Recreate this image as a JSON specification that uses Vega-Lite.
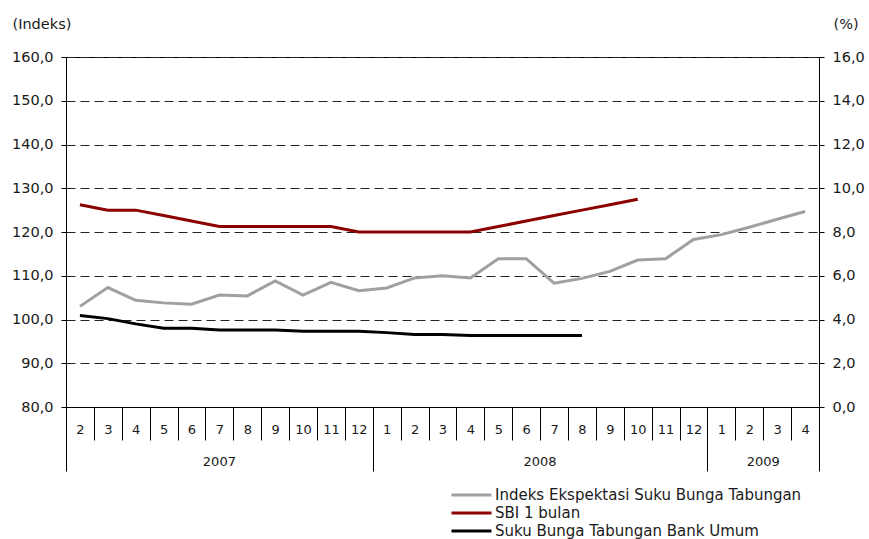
{
  "$schema": "https://vega.github.io/schema/vega-lite/v6.json",
  "width": 753,
  "height": 350,
  "autosize": {"type": "none"},
  "padding": {"left": 66, "top": 57, "right": 50, "bottom": 132},
  "background": "white",
  "config": {
    "view": {"stroke": "#000", "strokeWidth": 1},
    "font": "DejaVu Sans",
    "axis": {"labelFont": "DejaVu Sans", "titleFont": "DejaVu Sans", "labelColor": "#1a1a1a", "titleColor": "#1a1a1a", "domainColor": "#000", "tickColor": "#000", "titleFontWeight": "normal"},
    "legend": {"labelFont": "DejaVu Sans"}
  },
  "datasets": {
    "rows": [
      {"t": "2007-02", "s": "Indeks Ekspektasi Suku Bunga Tabungan", "v": 103.0},
      {"t": "2007-03", "s": "Indeks Ekspektasi Suku Bunga Tabungan", "v": 107.3},
      {"t": "2007-04", "s": "Indeks Ekspektasi Suku Bunga Tabungan", "v": 104.4},
      {"t": "2007-05", "s": "Indeks Ekspektasi Suku Bunga Tabungan", "v": 103.8},
      {"t": "2007-06", "s": "Indeks Ekspektasi Suku Bunga Tabungan", "v": 103.5},
      {"t": "2007-07", "s": "Indeks Ekspektasi Suku Bunga Tabungan", "v": 105.6},
      {"t": "2007-08", "s": "Indeks Ekspektasi Suku Bunga Tabungan", "v": 105.4},
      {"t": "2007-09", "s": "Indeks Ekspektasi Suku Bunga Tabungan", "v": 108.8},
      {"t": "2007-10", "s": "Indeks Ekspektasi Suku Bunga Tabungan", "v": 105.6},
      {"t": "2007-11", "s": "Indeks Ekspektasi Suku Bunga Tabungan", "v": 108.5},
      {"t": "2007-12", "s": "Indeks Ekspektasi Suku Bunga Tabungan", "v": 106.6},
      {"t": "2008-01", "s": "Indeks Ekspektasi Suku Bunga Tabungan", "v": 107.2},
      {"t": "2008-02", "s": "Indeks Ekspektasi Suku Bunga Tabungan", "v": 109.5},
      {"t": "2008-03", "s": "Indeks Ekspektasi Suku Bunga Tabungan", "v": 110.0},
      {"t": "2008-04", "s": "Indeks Ekspektasi Suku Bunga Tabungan", "v": 109.5},
      {"t": "2008-05", "s": "Indeks Ekspektasi Suku Bunga Tabungan", "v": 113.9},
      {"t": "2008-06", "s": "Indeks Ekspektasi Suku Bunga Tabungan", "v": 113.9},
      {"t": "2008-07", "s": "Indeks Ekspektasi Suku Bunga Tabungan", "v": 108.3},
      {"t": "2008-08", "s": "Indeks Ekspektasi Suku Bunga Tabungan", "v": 109.4},
      {"t": "2008-09", "s": "Indeks Ekspektasi Suku Bunga Tabungan", "v": 111.0},
      {"t": "2008-10", "s": "Indeks Ekspektasi Suku Bunga Tabungan", "v": 113.6},
      {"t": "2008-11", "s": "Indeks Ekspektasi Suku Bunga Tabungan", "v": 113.9},
      {"t": "2008-12", "s": "Indeks Ekspektasi Suku Bunga Tabungan", "v": 118.3},
      {"t": "2009-01", "s": "Indeks Ekspektasi Suku Bunga Tabungan", "v": 119.4},
      {"t": "2009-02", "s": "Indeks Ekspektasi Suku Bunga Tabungan", "v": 121.1},
      {"t": "2009-03", "s": "Indeks Ekspektasi Suku Bunga Tabungan", "v": 122.9},
      {"t": "2009-04", "s": "Indeks Ekspektasi Suku Bunga Tabungan", "v": 124.7},
      {"t": "2007-02", "s": "SBI 1 bulan", "v": 9.25},
      {"t": "2007-03", "s": "SBI 1 bulan", "v": 9.0},
      {"t": "2007-04", "s": "SBI 1 bulan", "v": 9.0},
      {"t": "2007-05", "s": "SBI 1 bulan", "v": 8.75},
      {"t": "2007-06", "s": "SBI 1 bulan", "v": 8.5},
      {"t": "2007-07", "s": "SBI 1 bulan", "v": 8.25},
      {"t": "2007-08", "s": "SBI 1 bulan", "v": 8.25},
      {"t": "2007-09", "s": "SBI 1 bulan", "v": 8.25},
      {"t": "2007-10", "s": "SBI 1 bulan", "v": 8.25},
      {"t": "2007-11", "s": "SBI 1 bulan", "v": 8.25},
      {"t": "2007-12", "s": "SBI 1 bulan", "v": 8.0},
      {"t": "2008-01", "s": "SBI 1 bulan", "v": 8.0},
      {"t": "2008-02", "s": "SBI 1 bulan", "v": 8.0},
      {"t": "2008-03", "s": "SBI 1 bulan", "v": 8.0},
      {"t": "2008-04", "s": "SBI 1 bulan", "v": 8.0},
      {"t": "2008-05", "s": "SBI 1 bulan", "v": 8.25},
      {"t": "2008-06", "s": "SBI 1 bulan", "v": 8.5},
      {"t": "2008-07", "s": "SBI 1 bulan", "v": 8.75},
      {"t": "2008-08", "s": "SBI 1 bulan", "v": 9.0},
      {"t": "2008-09", "s": "SBI 1 bulan", "v": 9.25},
      {"t": "2008-10", "s": "SBI 1 bulan", "v": 9.5},
      {"t": "2007-02", "s": "Suku Bunga Tabungan Bank Umum", "v": 4.18},
      {"t": "2007-03", "s": "Suku Bunga Tabungan Bank Umum", "v": 4.04},
      {"t": "2007-04", "s": "Suku Bunga Tabungan Bank Umum", "v": 3.8},
      {"t": "2007-05", "s": "Suku Bunga Tabungan Bank Umum", "v": 3.6},
      {"t": "2007-06", "s": "Suku Bunga Tabungan Bank Umum", "v": 3.6},
      {"t": "2007-07", "s": "Suku Bunga Tabungan Bank Umum", "v": 3.52},
      {"t": "2007-08", "s": "Suku Bunga Tabungan Bank Umum", "v": 3.52},
      {"t": "2007-09", "s": "Suku Bunga Tabungan Bank Umum", "v": 3.52},
      {"t": "2007-10", "s": "Suku Bunga Tabungan Bank Umum", "v": 3.46},
      {"t": "2007-11", "s": "Suku Bunga Tabungan Bank Umum", "v": 3.46},
      {"t": "2007-12", "s": "Suku Bunga Tabungan Bank Umum", "v": 3.46},
      {"t": "2008-01", "s": "Suku Bunga Tabungan Bank Umum", "v": 3.4},
      {"t": "2008-02", "s": "Suku Bunga Tabungan Bank Umum", "v": 3.31},
      {"t": "2008-03", "s": "Suku Bunga Tabungan Bank Umum", "v": 3.31},
      {"t": "2008-04", "s": "Suku Bunga Tabungan Bank Umum", "v": 3.27},
      {"t": "2008-05", "s": "Suku Bunga Tabungan Bank Umum", "v": 3.27},
      {"t": "2008-06", "s": "Suku Bunga Tabungan Bank Umum", "v": 3.27},
      {"t": "2008-07", "s": "Suku Bunga Tabungan Bank Umum", "v": 3.27},
      {"t": "2008-08", "s": "Suku Bunga Tabungan Bank Umum", "v": 3.27}
    ]
  },
  "data": {"name": "rows"},
  "layer": [
    {
      "transform": [{"filter": "datum.s == 'Indeks Ekspektasi Suku Bunga Tabungan'"}],
      "mark": {"type": "line", "strokeWidth": 3},
      "encoding": {
        "x": {
          "field": "t", "type": "ordinal",
          "scale": {"type": "band", "paddingInner": 0, "paddingOuter": 0},
          "axis": {
            "orient": "bottom", "title": null, "grid": false,
            "tickBand": "extent",
            "tickSize": {"condition": {"test": "datum.extra || datum.value == '2007-12' || datum.value == '2008-12' || datum.value == '2009-04'", "value": 64}, "value": 33},
            "labelPadding": {"condition": {"test": "datum.extra || datum.value == '2007-12' || datum.value == '2008-12' || datum.value == '2009-04'", "value": -42}, "value": -11},
            "labelExpr": "datum.extra || !datum.value ? '' : '' + toNumber(substring(datum.value, 5, 7))",
            "labelAngle": 0, "labelBaseline": "middle", "labelFontSize": 13,
            "labelOverlap": false, "labelBound": false, "labelFlush": false
          }
        },
        "y": {
          "field": "v", "type": "quantitative",
          "scale": {"domain": [80, 160], "nice": false, "zero": false},
          "axis": {
            "orient": "left", "values": [80, 90, 100, 110, 120, 130, 140, 150, 160],
            "labelExpr": "replace(format(datum.value, '.1f'), '.', ',')",
            "labelFontSize": 14.5, "labelPadding": 8, "tickSize": 5,
            "grid": true, "gridColor": "#222", "gridDash": [9, 5], "gridWidth": 1,
            "title": "(Indeks)", "titleAngle": 0, "titleAlign": "left", "titleBaseline": "middle",
            "titleX": -54, "titleY": -33, "titleFontSize": 14.5
          }
        },
        "color": {
          "field": "s", "type": "nominal",
          "scale": {"domain": ["Indeks Ekspektasi Suku Bunga Tabungan", "SBI 1 bulan", "Suku Bunga Tabungan Bank Umum"], "range": ["#a0a0a0", "#8b0000", "#000000"]},
          "legend": {
            "orient": "none", "legendX": 384, "legendY": 429, "title": null,
            "symbolType": "stroke", "symbolSize": 1600, "symbolStrokeWidth": 3,
            "clipHeight": 18, "rowPadding": 0, "labelOffset": 2, "labelLimit": 0,
            "labelFontSize": 15, "labelColor": "#1a1a1a", "padding": 0
          }
        }
      }
    },
    {
      "transform": [{"filter": "datum.s == 'SBI 1 bulan'"}],
      "mark": {"type": "line", "strokeWidth": 3},
      "encoding": {
        "x": {
          "field": "t", "type": "ordinal",
          "axis": {
            "orient": "bottom", "title": null, "grid": false, "domain": false, "ticks": false,
            "values": ["2007-07", "2008-07", "2009-03"],
            "labelExpr": "substring(datum.value, 0, 4)",
            "labelOffset": {"condition": {"test": "datum.value == '2007-07'", "value": 0}, "value": -13.95},
            "labelPadding": 54, "labelBaseline": "middle", "labelAngle": 0, "labelFontSize": 13,
            "labelOverlap": false, "labelBound": false, "labelFlush": false
          }
        },
        "y": {
          "field": "v", "type": "quantitative",
          "scale": {"domain": [0, 16], "nice": false},
          "axis": {
            "orient": "right", "values": [0, 2, 4, 6, 8, 10, 12, 14, 16],
            "labelExpr": "replace(format(datum.value, '.1f'), '.', ',')",
            "labelFontSize": 14.5, "labelPadding": 8, "tickSize": 5, "grid": false,
            "title": "(%)", "titleAngle": 0, "titleAlign": "left", "titleBaseline": "middle",
            "titleX": 14, "titleY": -33, "titleFontSize": 14.5
          }
        },
        "color": {"field": "s", "type": "nominal"}
      }
    },
    {
      "transform": [{"filter": "datum.s == 'Suku Bunga Tabungan Bank Umum'"}],
      "mark": {"type": "line", "strokeWidth": 3},
      "encoding": {
        "x": {"field": "t", "type": "ordinal", "axis": null},
        "y": {"field": "v", "type": "quantitative", "scale": {"domain": [0, 16], "nice": false}, "axis": null},
        "color": {"field": "s", "type": "nominal"}
      }
    }
  ],
  "resolve": {"scale": {"y": "independent"}, "axis": {"x": "independent"}}
}
